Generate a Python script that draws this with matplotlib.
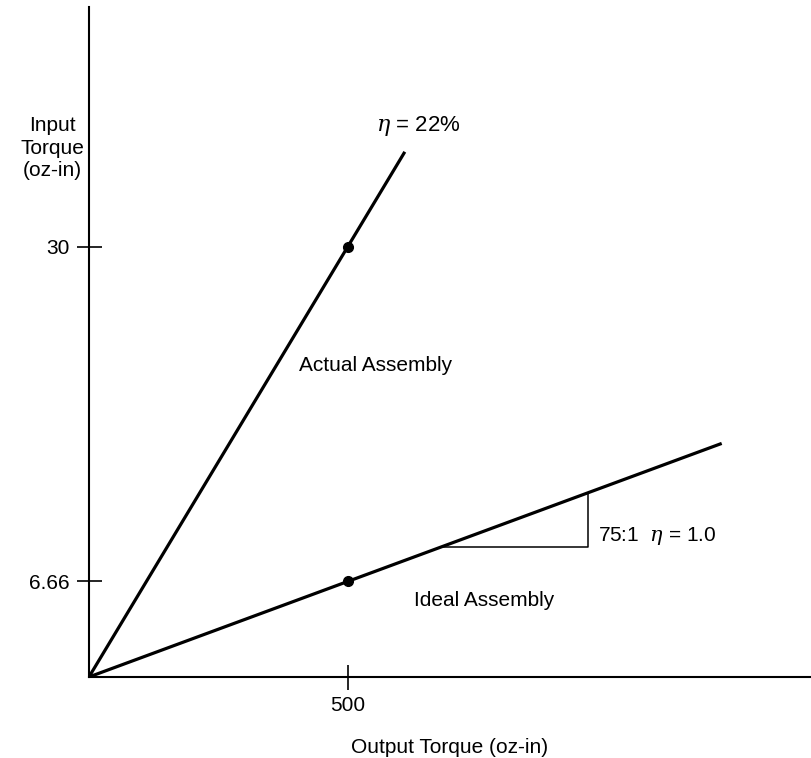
import matplotlib.pyplot as plt

plt.rcParams['font.family'] = ['Liberation Sans', 'DejaVu Sans']
plt.rcParams['mathtext.fontset'] = 'dejavuserif'

# torque values (oz-in)
out_point = 500
actual_in = 30
ideal_in = 6.66
actual_end = 610
ideal_end = 1222
tri_x = [678, 963]

x_ticks = [500]
x_tick_labels = ['500']
y_ticks = [6.66, 30]
y_tick_labels = ['6.66', '30']

actual_slope = actual_in / out_point
ideal_slope = ideal_in / out_point

fig = plt.figure(figsize=(8.11, 7.58), dpi=100)
ax = fig.add_axes([0.1097, 0.1069, 0.890, 0.884])

ax.plot([0, actual_end], [0, actual_slope * actual_end], color='black', lw=2.3, solid_capstyle='butt')
ax.plot([0, ideal_end], [0, ideal_slope * ideal_end], color='black', lw=2.3, solid_capstyle='butt')
ax.plot([out_point, out_point], [actual_in, ideal_in], 'o', color='black', ms=7)

# slope triangle
y0 = ideal_slope * tri_x[0]
y1 = ideal_slope * tri_x[1]
ax.plot([tri_x[0], tri_x[1], tri_x[1]], [y0, y0, y1], color='black', lw=1.1)

ax.text(555, 38.4, r'$\eta$ = 22%', fontsize=16, va='center')
ax.text(405, 21.7, 'Actual Assembly', fontsize=15, va='center')
ax.text(627, 5.3, 'Ideal Assembly', fontsize=15, va='center')
ax.text(983, 9.8, r'75:1  $\eta$ = 1.0', fontsize=15, va='center')

ax.set_xlim(0, 1394)
ax.set_ylim(0, 46.7)
ax.set_xticks(x_ticks)
ax.set_xticklabels(x_tick_labels, fontsize=15)
ax.set_yticks(y_ticks)
ax.set_yticklabels(y_tick_labels, fontsize=15)
ax.tick_params(direction='inout', length=18, width=1.2, pad=5)

for side in ['top', 'right']:
    ax.spines[side].set_visible(False)
for side in ['left', 'bottom']:
    ax.spines[side].set_linewidth(1.5)

ax.set_xlabel('Output Torque (oz-in)', fontsize=15, labelpad=16)
fig.text(52 / 811, 1 - 148 / 758, 'Input\nTorque\n(oz-in)', fontsize=15,
         ha='center', va='center', linespacing=1.25)

fig.savefig('out.png', dpi=100)
